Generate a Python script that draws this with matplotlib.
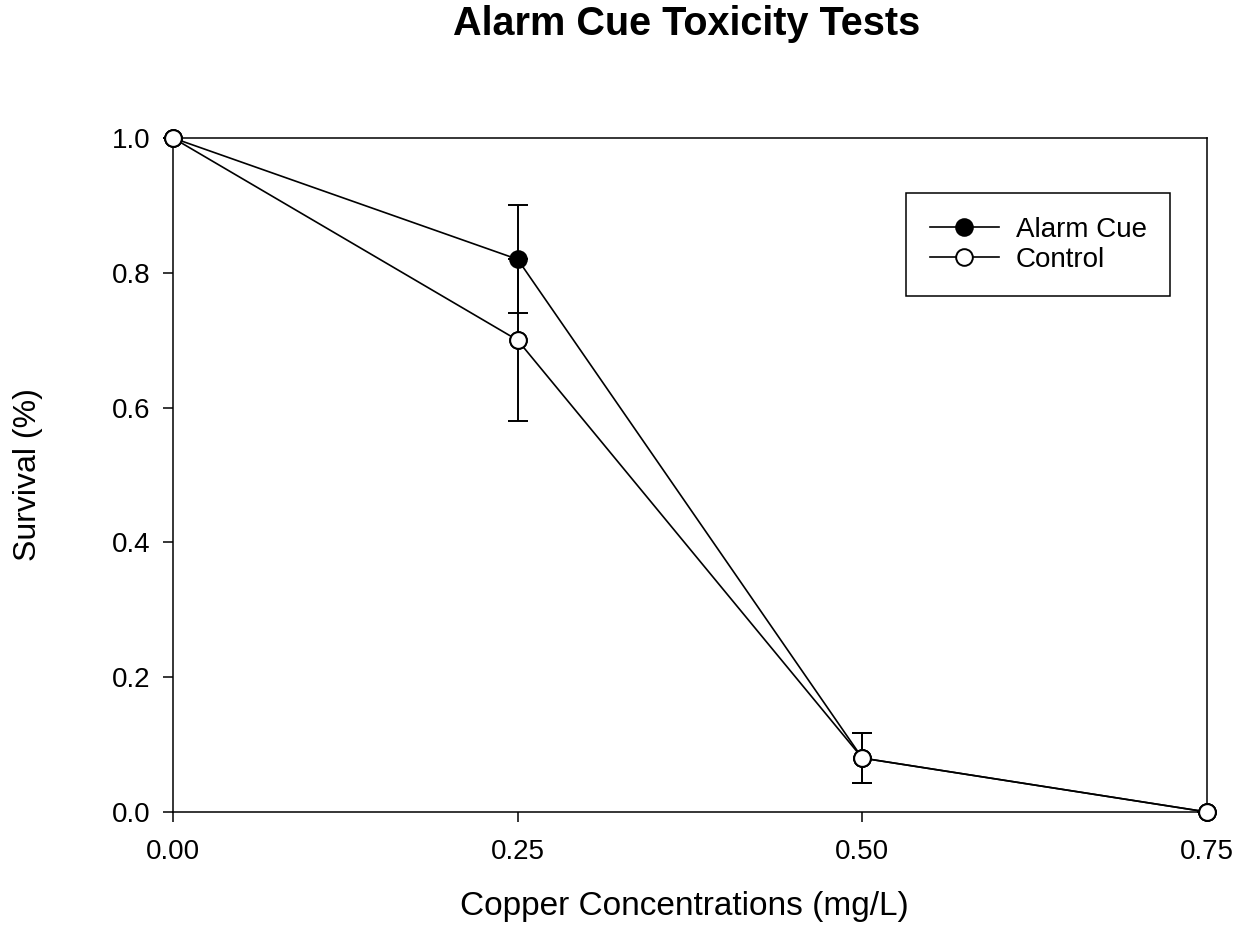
import matplotlib
matplotlib.use("Agg")
import matplotlib.pyplot as plt

concentrations = [0.00, 0.25, 0.50, 0.75]
alarm_cue = [1.00, 0.82, 0.08, 0.00]
alarm_err = [0.0, 0.08, 0.037, 0.0]
control = [1.00, 0.70, 0.08, 0.00]
control_err = [0.0, 0.12, 0.037, 0.0]
xticks = [0.00, 0.25, 0.50, 0.75]
yticks = [0.0, 0.2, 0.4, 0.6, 0.8, 1.0]

plt.rcParams['font.family'] = ['Liberation Sans', 'DejaVu Sans']

fig = plt.figure(figsize=(12.39, 9.27), dpi=100)
ax = fig.add_axes([173/1239, 1-812/927, (1207-173)/1239, (812-138)/927])

MS = 12
LW = 1.2

def draw(y, err, face, label):
    ax.errorbar(concentrations, y, yerr=err, fmt='none', ecolor='black',
                elinewidth=1.4, capsize=7.5, capthick=1.4, clip_on=False, zorder=2)
    ax.plot(concentrations, y, color='black', lw=LW, marker='o', markersize=MS,
            markerfacecolor=face, markeredgecolor='black', markeredgewidth=1.4,
            clip_on=False, zorder=3, label=label)

draw(control, control_err, 'white', 'Control')
draw(alarm_cue, alarm_err, 'black', 'Alarm Cue')
# control markers on top where series overlap
ax.plot(concentrations, control, ls='none', marker='o', markersize=MS,
        markerfacecolor='white', markeredgecolor='black', markeredgewidth=1.4,
        clip_on=False, zorder=4)

ax.set_xlim(0, 0.75)
ax.set_ylim(0, 1.0)
ax.set_xticks(xticks)
ax.set_xticklabels([f"{v:.2f}" for v in xticks])
ax.set_yticks(yticks)
ax.set_yticklabels([f"{v:.1f}" for v in yticks])
ax.tick_params(direction='out', length=7.2, width=1.1, labelsize=20, pad=9)
ax.tick_params(axis='x', pad=12)
for s in ax.spines.values():
    s.set_linewidth(1.1)

ax.set_xlabel('Copper Concentrations (mg/L)', fontsize=24)
ax.xaxis.set_label_coords((684-173)/1034, -(906-812)/674)
ax.xaxis.label.set_va('center')
ax.set_ylabel('Survival (%)', fontsize=23)
ax.yaxis.set_label_coords(-(173-28)/1034, 0.5)
ax.yaxis.label.set_va('center')
fig.text(687/1239, 1-35/927, 'Alarm Cue Toxicity Tests', fontsize=28.5, fontweight='bold',
         ha='center', va='baseline')

handles, labels = ax.get_legend_handles_labels()
order = [labels.index('Alarm Cue'), labels.index('Control')]
leg = ax.legend([handles[i] for i in order], [labels[i] for i in order],
                loc='upper left', bbox_to_anchor=((906-173)/1034, 1-(193-138)/674),
                fontsize=20, frameon=True, fancybox=False, edgecolor='black',
                handlelength=2.5, handletextpad=0.6, borderpad=0.85,
                labelspacing=0.15, borderaxespad=0)
leg.get_frame().set_linewidth(1.1)
leg.get_frame().set_alpha(1)

fig.savefig('out.png', dpi=100)
